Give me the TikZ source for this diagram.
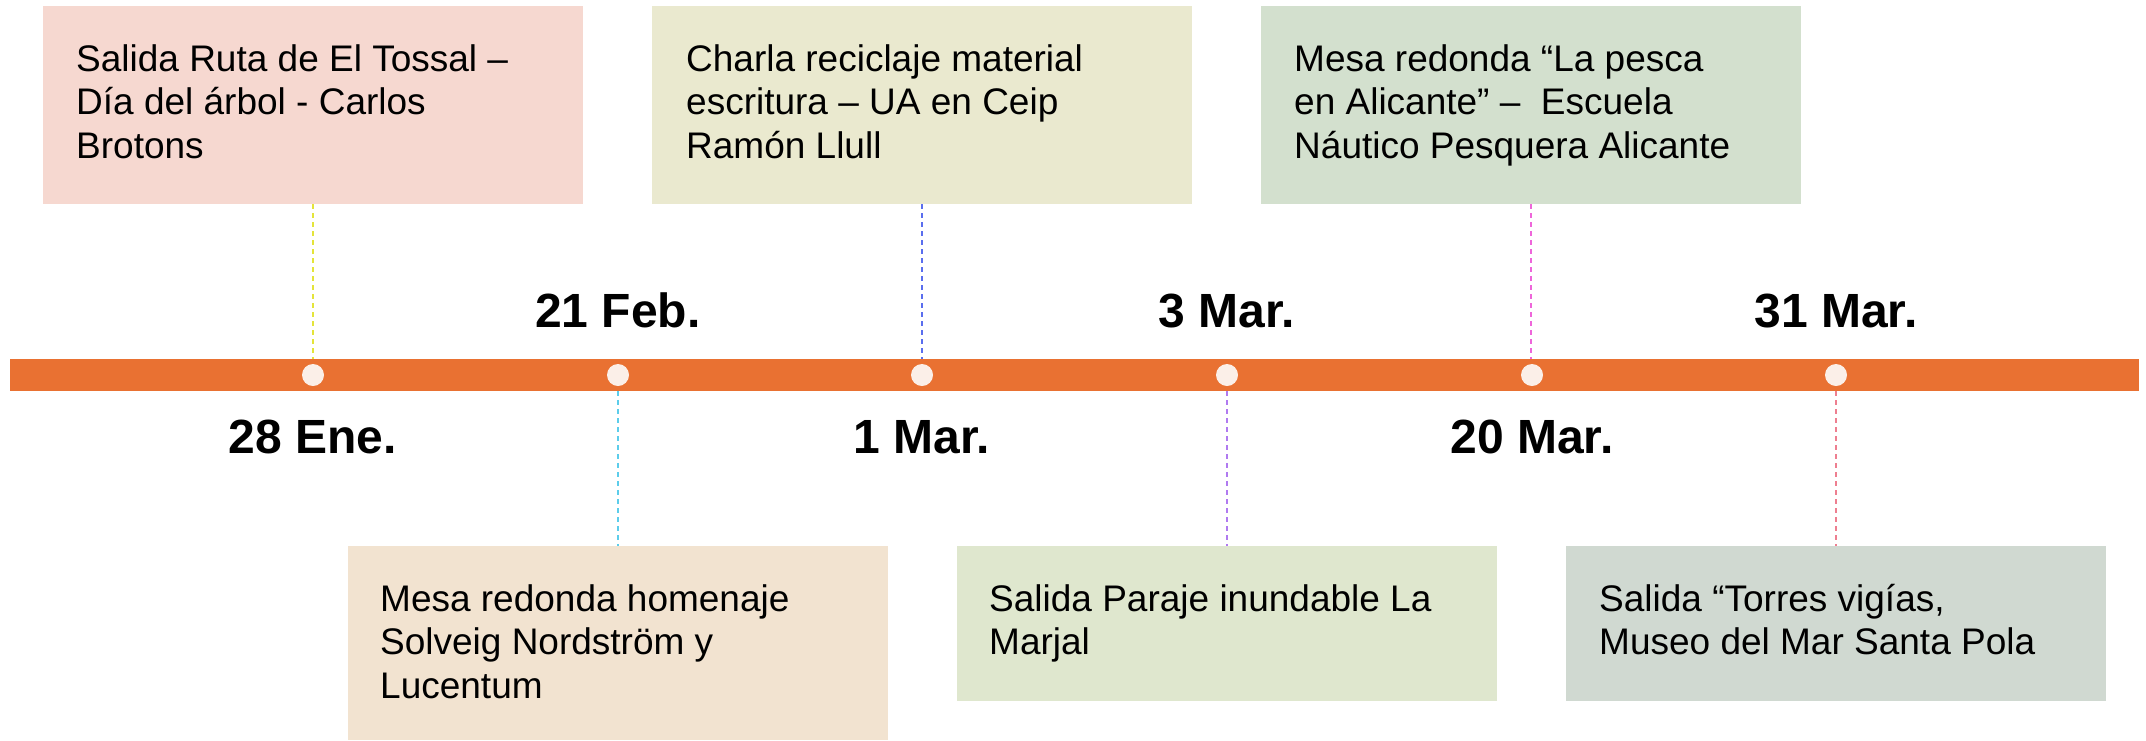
\documentclass[tikz,border=0pt]{standalone}
\usepackage{fontspec}
\setmainfont{Liberation Sans}
\definecolor{barC}{HTML}{E97132}
\definecolor{dotC}{HTML}{FBEFE8}
\definecolor{boxA}{HTML}{F6D8D0}
\definecolor{boxB}{HTML}{EAE9CF}
\definecolor{boxC}{HTML}{D3E0CE}
\definecolor{boxD}{HTML}{F2E3D0}
\definecolor{boxE}{HTML}{DFE7CE}
\definecolor{boxF}{HTML}{D0D9D1}
\definecolor{lnA}{HTML}{E4E43A}
\definecolor{lnB}{HTML}{5CCDEB}
\definecolor{lnC}{HTML}{5A6EEE}
\definecolor{lnD}{HTML}{B07AF0}
\definecolor{lnE}{HTML}{EE66DA}
\definecolor{lnF}{HTML}{EE7F90}
\tikzset{
  evbox/.style={rectangle, inner sep=0pt, minimum width=540pt, draw=none},
  evtext/.style={anchor=north west, inner sep=0pt, align=left, font=\fontsize{37}{43.5}\selectfont},
  datelbl/.style={anchor=base, inner sep=0pt, font=\fontsize{48}{56}\selectfont\bfseries},
  tdot/.style={circle, fill=dotC, inner sep=0pt, minimum size=22pt},
  conn/.style={dash pattern=on 5pt off 4pt, line width=1.5pt}
}
\begin{document}
\begin{tikzpicture}[x=1pt,y=-1pt]
\useasboundingbox[fill=white] (0,0) rectangle (2146,740);
% bar
\node[rectangle, fill=barC, inner sep=0pt, minimum width=2129pt, minimum height=32pt] (bar) at (1074.5,375) {};
% boxes
\node[evbox, fill=boxA, minimum height=198pt] (b1) at (313,105) {};
\node[evbox, fill=boxB, minimum height=198pt] (b3) at (922,105) {};
\node[evbox, fill=boxC, minimum height=198pt] (b5) at (1531,105) {};
\node[evbox, fill=boxD, minimum height=194pt] (b2) at (618,643) {};
\node[evbox, fill=boxE, minimum height=155pt] (b4) at (1227,623.5) {};
\node[evbox, fill=boxF, minimum height=155pt] (b6) at (1836,623.5) {};
% dots
\node[tdot] (d1) at (313,375) {};
\node[tdot] (d2) at (618,375) {};
\node[tdot] (d3) at (922,375) {};
\node[tdot] (d4) at (1227,375) {};
\node[tdot] (d5) at (1532,375) {};
\node[tdot] (d6) at (1836,375) {};
% connectors
\draw[conn, lnA] (b1.south) -- (b1.south |- bar.north);
\draw[conn, lnB] (d2.south |- bar.south) -- (b2.north);
\draw[conn, lnC] (b3.south) -- (b3.south |- bar.north);
\draw[conn, lnD] (d4.south |- bar.south) -- (b4.north);
\draw[conn, lnE] (b5.south) -- (b5.south |- bar.north);
\draw[conn, lnF] (d6.south |- bar.south) -- (b6.north);
% texts
\node[evtext] (t1) at (76,40.5) {\strut Salida Ruta de El Tossal –\\Día del árbol - Carlos\\Brotons};
\node[evtext] (t3) at (686,40.5) {\strut Charla reciclaje material\\escritura – UA en Ceip\\Ramón Llull};
\node[evtext] (t5) at (1294,40.5) {\strut Mesa redonda “La pesca\\en Alicante” –\ \ Escuela\\Náutico Pesquera Alicante};
\node[evtext] (t2) at (380,580.5) {\strut Mesa redonda homenaje\\Solveig Nordström y\\Lucentum};
\node[evtext] (t4) at (989,580.5) {\strut Salida Paraje inundable La\\Marjal};
\node[evtext] (t6) at (1599,580.5) {\strut Salida “Torres vigías,\\Museo del Mar Santa Pola};
% dates
\node[datelbl] (l1) at (313,453) {28 Ene.};
\node[datelbl] (l2) at (618,327) {21 Feb.};
\node[datelbl] (l3) at (922,453) {1 Mar.};
\node[datelbl] (l4) at (1227,327) {3 Mar.};
\node[datelbl] (l5) at (1532,453) {20 Mar.};
\node[datelbl] (l6) at (1836,327) {31 Mar.};
\end{tikzpicture}
\end{document}
